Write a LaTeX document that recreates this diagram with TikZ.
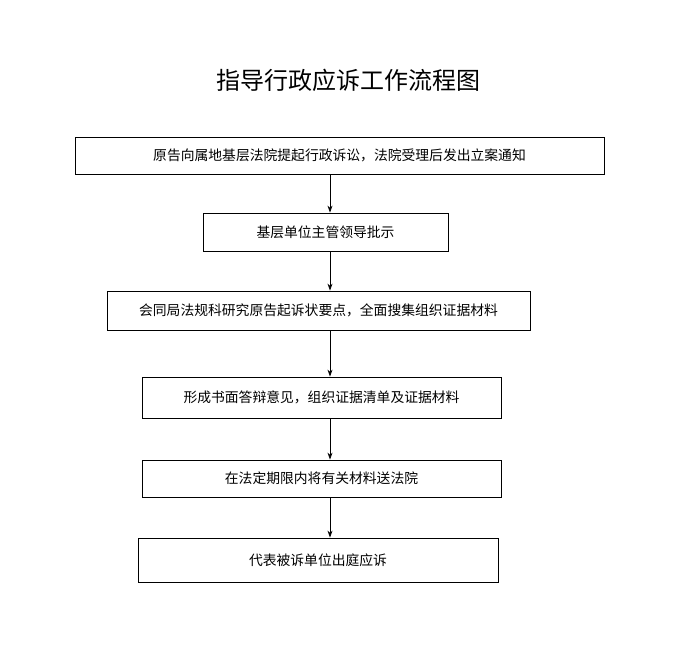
\documentclass[tikz,border=0pt]{standalone}
\usepackage{fontspec}
\newfontfamily\cjk{Noto Sans CJK SC}
\usetikzlibrary{arrows.meta,positioning}
\tikzset{
    stepbox/.style={draw, thick, rectangle, inner sep=0pt, font=\cjk\fontsize{13.8}{16}\selectfont},
    flowarrow/.style={-{Stealth[length=7pt,width=5pt]}, thick}
}
\begin{document}
\begin{tikzpicture}[x=1pt, y=-1pt]
\useasboundingbox (0,0) rectangle (700,647);

% title
\node[font=\cjk\fontsize{24}{27}\selectfont] (title) at (348,80) {指导行政应诉工作流程图};

% steps
\node[stepbox, minimum width=529pt, minimum height=37pt] (s1) at (339.5,155.5) {原告向属地基层法院提起行政诉讼，法院受理后发出立案通知};
\node[stepbox, minimum width=245pt, minimum height=38pt] (s2) at (325.5,232) {基层单位主管领导批示};
\node[stepbox, minimum width=423pt, minimum height=39pt] (s3) at (318.5,310.5) {会同局法规科研究原告起诉状要点，全面搜集组织证据材料};
\node[stepbox, minimum width=359pt, minimum height=41pt] (s4) at (321.5,397.5) {形成书面答辩意见，组织证据清单及证据材料};
\node[stepbox, minimum width=359pt, minimum height=37pt] (s5) at (321.5,478.5) {在法定期限内将有关材料送法院};
\node[stepbox, minimum width=360pt, minimum height=44pt] (s6) at (318,560) {代表被诉单位出庭应诉};

% arrows
\coordinate (ax) at (330,0);
\foreach \a/\b in {s1/s2,s2/s3,s3/s4,s4/s5,s5/s6}
    \draw[flowarrow] (\a.south -| ax) -- (\b.north -| ax);
\end{tikzpicture}
\end{document}
